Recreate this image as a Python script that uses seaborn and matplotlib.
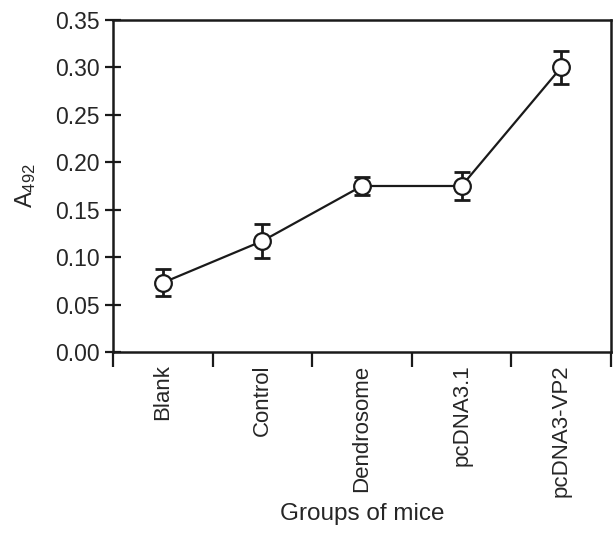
import matplotlib
matplotlib.use('Agg')
import matplotlib.pyplot as plt
import numpy as np
import seaborn as sns
from matplotlib.ticker import FixedLocator, MultipleLocator, NullFormatter

groups = ['Blank', 'Control', 'Dendrosome', 'pcDNA3.1', 'pcDNA3-VP2']
a492_mean = [0.073, 0.117, 0.175, 0.175, 0.300]
a492_err = [0.014, 0.018, 0.010, 0.015, 0.017]

sns.set_style('ticks')
plt.rcParams['font.family'] = ['Liberation Sans', 'DejaVu Sans']
plt.rcParams['mathtext.default'] = 'regular'

pos = np.arange(len(groups))

fig = plt.figure(figsize=(6.13, 5.36), dpi=100)
ax = fig.add_axes([0.1843, 0.3433, 0.8124, 0.6194])

ax.errorbar(pos, a492_mean, yerr=a492_err, fmt='none', ecolor='#1a1a1a',
            elinewidth=2, capsize=5.8, capthick=2, zorder=2)
sns.lineplot(x=pos, y=a492_mean, ax=ax, color='#1a1a1a', linewidth=1.6,
             marker='o', markersize=12, markerfacecolor='white',
             markeredgecolor='#1a1a1a', markeredgewidth=1.6, zorder=3)

ax.set_xlim(-0.5, len(groups) - 0.5)
ax.set_ylim(0, 0.35)
ax.yaxis.set_major_locator(MultipleLocator(0.05))
ax.yaxis.set_major_formatter(matplotlib.ticker.FormatStrFormatter('%.2f'))

ax.xaxis.set_major_locator(FixedLocator(np.arange(len(groups) + 1) - 0.5))
ax.xaxis.set_major_formatter(NullFormatter())
ax.xaxis.set_minor_locator(FixedLocator(pos))
ax.set_xticklabels(groups, minor=True, rotation=90, fontsize=16)
ax.tick_params(axis='x', which='minor', length=0, pad=9)
ax.tick_params(axis='x', which='major', direction='out', length=11, width=1.6, color='#1a1a1a')
ax.tick_params(axis='y', which='major', direction='inout', length=11.5, width=1.6,
               color='#1a1a1a', labelsize=16.5, pad=4)

for s in ax.spines.values():
    s.set_linewidth(1.8)
    s.set_color('#1a1a1a')

ax.set_xlabel('Groups of mice', fontsize=17.5)
ax.set_ylabel('A$_{492}$', fontsize=17)
ax.xaxis.set_label_coords(0.5, -0.455)
ax.yaxis.set_label_coords(-0.151, 0.5)

fig.savefig('out.png', dpi=100)
